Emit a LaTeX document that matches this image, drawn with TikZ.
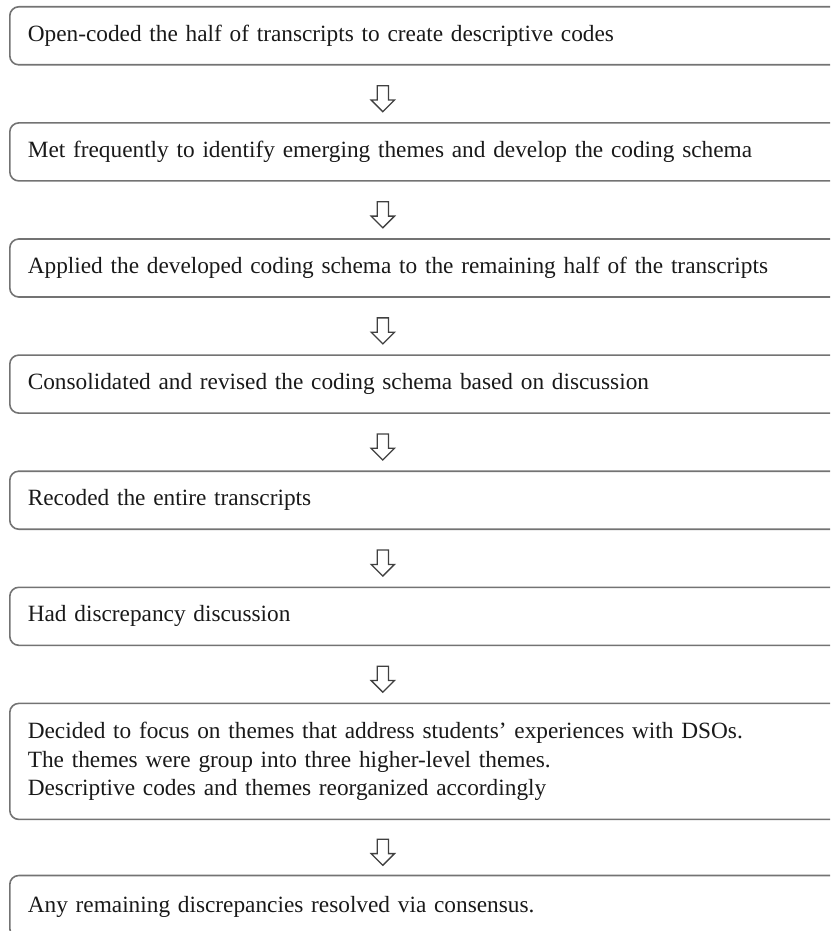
\documentclass[tikz,border=0pt]{standalone}
\usepackage{fontspec}
\setmainfont{Liberation Serif}
\usetikzlibrary{positioning}
\usetikzlibrary{calc}
\usetikzlibrary{shapes.arrows}

\begin{document}
\begin{tikzpicture}[x=1pt, y=1pt,
  stage/.style={draw=black!55, line width=1.6pt, rounded corners=9pt, rectangle,
    minimum width=841pt, minimum height=58pt, text width=805pt,
    inner xsep=18pt, inner ysep=0pt, align=left,
    font=\fontsize{23.3}{28.5}\selectfont, text=black!90},
  downarr/.style={draw=black!75, line width=1.3pt, single arrow, shape border rotate=270,
    inner sep=5pt, single arrow head extend=6pt, minimum height=26pt},
  node distance=56.5pt,
]
\clip (0,0) rectangle (830,-931);

% coding steps
\node (b1) [stage, anchor=north west] at (9,-6) {Open-coded the half of transcripts to create descriptive codes};
\node (b2) [stage, below=of b1] {Met frequently to identify emerging themes and develop the coding schema};
\node (b3) [stage, below=of b2] {Applied the developed coding schema to the remaining half of the transcripts};
\node (b4) [stage, below=of b3] {Consolidated and revised the coding schema based on discussion};
\node (b5) [stage, below=of b4] {Recoded the entire transcripts};
\node (b6) [stage, below=of b5] {Had discrepancy discussion};
\node (b7) [stage, below=of b6, minimum height=116pt] {Decided to focus on themes that address students' experiences with DSOs.\\
  The themes were group into three higher-level themes.\\
  Descriptive codes and themes reorganized accordingly};
\node (b8) [stage, below=54.5pt of b7, minimum height=62pt] {Any remaining discrepancies resolved via consensus.};

\foreach \i/\j in {1/2,2/3,3/4,4/5,5/6,6/7,7/8}
  \node (arr\i) [downarr] at ($(b\i.south)!.5!(b\j.north)+(-47.5,-2)$) {};
\end{tikzpicture}
\end{document}
